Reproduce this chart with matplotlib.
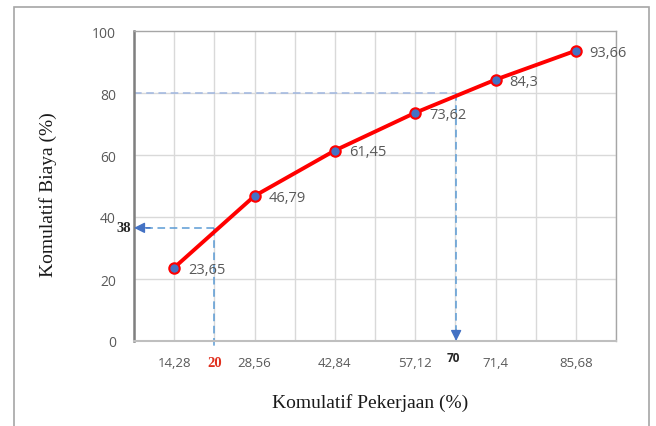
import matplotlib
matplotlib.use("Agg")
import matplotlib.pyplot as plt
from matplotlib.patches import Rectangle
import numpy as np

categories = ["14,28", "28,56", "42,84", "57,12", "71,4", "85,68"]
biaya = [23.65, 46.79, 61.45, 73.62, 84.3, 93.66]
labels = ["23,65", "46,79", "61,45", "73,62", "84,3", "93,66"]
yticks = [0, 20, 40, 60, 80, 100]

# reference annotation values
ref_x1_label, ref_y1_label = "20", "38"
ref_x2_label, ref_y2 = "70", 80
ref_x1_pos, ref_y1 = 0.5, 36.5
ref_x2_pos = 3.51

fig = plt.figure(figsize=(6.56, 4.27), dpi=100)
fig.patch.set_facecolor("white")
# outer border
fig.add_artist(Rectangle((14/656, -0.1), (649-14)/656, 1.1 - 8/427,
                         transform=fig.transFigure, fill=False,
                         edgecolor="#a6a6a6", linewidth=1.2))

ax = fig.add_axes([134/656, (427-342)/427, (616-134)/656, 310/427])
x = np.arange(len(categories))

ax.set_xlim(-0.5, 5.5)
ax.set_ylim(0, 100)

# grid
for gx in np.arange(-0.5, 5.6, 0.5):
    ax.axvline(gx, color="#d9d9d9", lw=1, zorder=0)
for gy in yticks[1:-1]:
    ax.axhline(gy, color="#d9d9d9", lw=1, zorder=0)

# reference dashed lines
ax.plot([-0.5, ref_x2_pos], [ref_y2, ref_y2], ls=(0, (5, 3)), color="#9fb6e0", lw=1.1, zorder=1)
ax.plot([ref_x2_pos, ref_x2_pos], [ref_y2, 3], ls=(0, (5, 3)), color="#5b9bd5", lw=1.1, zorder=1)
ax.annotate("", xy=(ref_x2_pos, 0), xytext=(ref_x2_pos, 3.5),
            arrowprops=dict(arrowstyle="-|>", color="#4472c4", lw=1, mutation_scale=16,
                            shrinkA=0, shrinkB=0), zorder=3)
ax.plot([ref_x1_pos, ref_x1_pos], [ref_y1, -1.5], ls=(0, (5, 3)), color="#5b9bd5", lw=1.1,
        zorder=1, clip_on=False)
ax.plot([ref_x1_pos, -0.35], [ref_y1, ref_y1], ls=(0, (5, 3)), color="#5b9bd5", lw=1.1, zorder=1)
ax.annotate("", xy=(-0.5, ref_y1), xytext=(-0.3, ref_y1),
            arrowprops=dict(arrowstyle="-|>", color="#4472c4", lw=1, mutation_scale=16,
                            shrinkA=0, shrinkB=0), zorder=3)

# data line
ax.plot(x, biaya, color="#ff0000", lw=2.8, zorder=4, solid_capstyle="round")
ax.plot(x, biaya, ls="none", marker="o", ms=7.5, mfc="#4472c4", mec="#ff0000", mew=1.5, zorder=5)
for xi, yi, lab in zip(x, biaya, labels):
    ax.annotate(lab, (xi, yi), xytext=(10, -1), textcoords="offset points",
                ha="left", va="center", fontsize=10.5, color="#595959", family="Open Sans")

# spines
for s in ["top", "right"]:
    ax.spines[s].set_color("#a6a6a6")
    ax.spines[s].set_linewidth(1)
ax.spines["left"].set_color("#7f7f7f")
ax.spines["left"].set_linewidth(1.8)
ax.spines["bottom"].set_color("#bfbfbf")
ax.spines["bottom"].set_linewidth(1.5)

ax.set_xticks(x)
ax.set_xticklabels(categories, family="Open Sans", fontsize=9.5, color="#595959")
ax.set_yticks(yticks)
ax.set_yticklabels([str(v) for v in yticks], family="Open Sans", fontsize=10, color="#595959")
ax.tick_params(length=0, pad=11)
ax.tick_params(axis="y", pad=13)

# extra reference labels
ax.text(ref_x1_pos, -6.8, ref_x1_label, ha="center", va="center", color="#e0301e",
        fontsize=10.5, fontweight="bold", family="Liberation Serif")
ax.text(ref_x2_pos - 0.03, -5.3, ref_x2_label, ha="center", va="center", color="#262626",
        fontsize=8.5, fontweight="bold", family="Open Sans")
ax.text(-0.54, ref_y1, ref_y1_label, ha="right", va="center", color="#262626",
        fontsize=10.5, fontweight="bold", family="Liberation Serif")

fig.text(370/656, 1 - 403/427, "Komulatif Pekerjaan (%)", ha="center", va="center",
         fontsize=14, family="Liberation Serif", color="#1a1a1a")
fig.text(48/656, 1 - 195/427, "Komulatif Biaya (%)", ha="center", va="center",
         rotation=90, fontsize=14, family="Liberation Serif", color="#1a1a1a")

fig.savefig("out.png", dpi=100)
